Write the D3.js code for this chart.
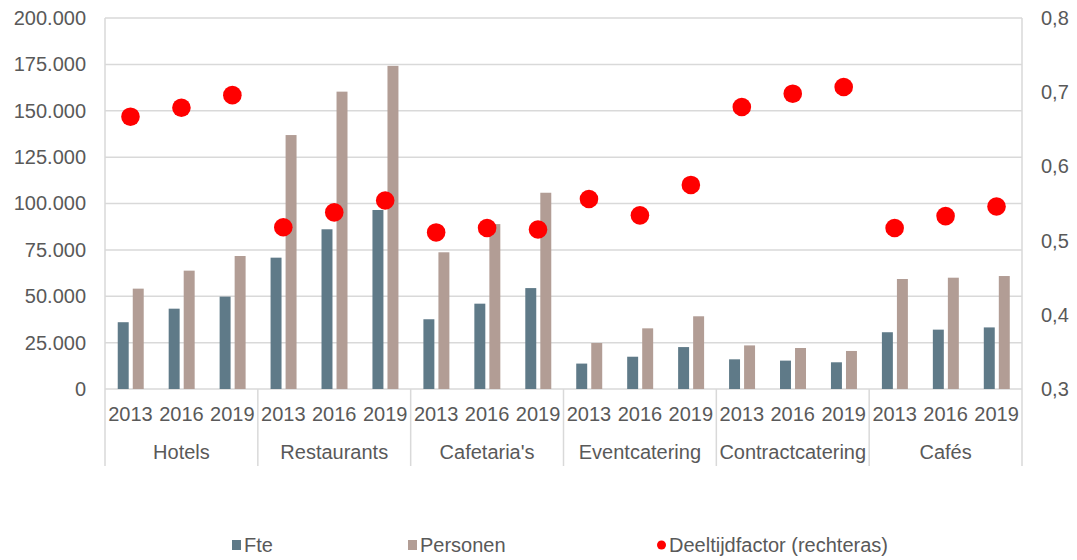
<!DOCTYPE html>
<html>
<head>
<meta charset="utf-8">
<script src="https://cdn.jsdelivr.net/npm/d3@7"></script>
<style>
  body { margin: 0; background: #fff; }
  svg text { font-family: "Liberation Sans", Arial, sans-serif; fill: #595959; }
</style>
</head>
<body>
<div class="chart"></div>
<script>
// data
const sectors = ['Hotels', 'Restaurants', "Cafetaria's", 'Eventcatering', 'Contractcatering', 'Cafés'];
const years = ['2013', '2016', '2019'];
const fte = [
  36000, 43300, 49800,
  70800, 86100, 96500,
  37600, 46000, 54400,
  13700, 17400, 22600,
  16000, 15300, 14400,
  30600, 32000, 33200
];
const personen = [
  54100, 63800, 71700,
  136900, 160300, 174200,
  73700, 88900, 105800,
  24800, 32700, 39200,
  23500, 22100, 20500,
  59300, 60000, 60900
];
const deeltijd = [
  0.667, 0.679, 0.696,
  0.518, 0.538, 0.554,
  0.511, 0.517, 0.515,
  0.556, 0.534, 0.575,
  0.680, 0.698, 0.707,
  0.517, 0.533, 0.546
];
const leftTicks = [0, 25000, 50000, 75000, 100000, 125000, 150000, 175000, 200000];
const rightTicks = [0.3, 0.4, 0.5, 0.6, 0.7, 0.8];

const W = 1077, H = 560;
const margin = { top: 18, right: 55, bottom: 171, left: 105 };
const graph_w = W - margin.left - margin.right;
const graph_h = H - margin.top - margin.bottom;

const colFte = '#5f7a88';
const colPers = '#b29d95';
const colGrid = '#d9d9d9';

const svg = d3.select('.chart').append('svg').attr('width', W).attr('height', H);
const graph = svg.append('g').attr('transform', `translate(${margin.left}, ${margin.top})`);

// rows: one per sector/year
const rows = [];
sectors.forEach((s, i) => {
  years.forEach((y, j) => {
    const k = i * 3 + j;
    rows.push({ key: s + '|' + y, sector: s, year: y, fte: fte[k], personen: personen[k], dtf: deeltijd[k] });
  });
});

// scales
const x = d3.scaleBand().domain(rows.map(d => d.key)).range([0, graph_w]);
const xg = d3.scaleBand().domain(sectors).range([0, graph_w]);
const bw = x.bandwidth();
const x1 = d3.scaleBand().domain(['fte', 'personen'])
  .range([bw * 0.25, bw * 0.76]).paddingInner(0.27);
const y = d3.scaleLinear().domain([0, 200000]).range([graph_h, 0]);
const y2 = d3.scaleLinear().domain([0.3, 0.8]).range([graph_h, 0]);

// gridlines
graph.append('g').selectAll('line').data(leftTicks).join('line')
  .attr('x1', 0).attr('x2', graph_w)
  .attr('y1', d => y(d)).attr('y2', d => y(d))
  .attr('stroke', colGrid).attr('stroke-width', 1.5);

// left / right axis labels
const fmt = d => d3.format(',')(d).replace(/,/g, '.');
const yAxis = d3.axisLeft(y).tickValues(leftTicks).tickFormat(fmt).tickSize(0).tickPadding(19);
const yAxisG = graph.append('g').call(yAxis);
yAxisG.select('.domain').remove();
yAxisG.selectAll('text').attr('font-size', 20).attr('fill', '#595959').attr('font-family', '"Liberation Sans", Arial, sans-serif');

const y2Axis = d3.axisRight(y2).tickValues(rightTicks).tickFormat(d => d3.format('.1f')(d).replace('.', ',')).tickSize(0).tickPadding(19);
const y2AxisG = graph.append('g').attr('transform', `translate(${graph_w}, 0)`).call(y2Axis);
y2AxisG.select('.domain').remove();
y2AxisG.selectAll('text').attr('font-size', 20).attr('fill', '#595959').attr('font-family', '"Liberation Sans", Arial, sans-serif');

// vertical frame + group separators
const sepBottom = graph_h + 77;
graph.append('line').attr('x1', 0).attr('x2', 0).attr('y1', 0).attr('y2', sepBottom)
  .attr('stroke', colGrid).attr('stroke-width', 1.5);
graph.append('line').attr('x1', graph_w).attr('x2', graph_w).attr('y1', 0).attr('y2', sepBottom)
  .attr('stroke', colGrid).attr('stroke-width', 1.5);
graph.append('g').selectAll('line').data(sectors.slice(1)).join('line')
  .attr('x1', d => xg(d)).attr('x2', d => xg(d))
  .attr('y1', graph_h).attr('y2', sepBottom)
  .attr('stroke', colGrid).attr('stroke-width', 1.5);

// bars
const cat = graph.append('g').selectAll('g').data(rows).join('g')
  .attr('transform', d => `translate(${x(d.key)}, 0)`);
cat.append('rect')
  .attr('x', x1('fte')).attr('width', x1.bandwidth())
  .attr('y', d => y(d.fte)).attr('height', d => graph_h - y(d.fte))
  .attr('fill', colFte);
cat.append('rect')
  .attr('x', x1('personen')).attr('width', x1.bandwidth())
  .attr('y', d => y(d.personen)).attr('height', d => graph_h - y(d.personen))
  .attr('fill', colPers);

// dots
graph.append('g').selectAll('circle').data(rows).join('circle')
  .attr('cx', d => x(d.key) + bw / 2)
  .attr('cy', d => y2(d.dtf))
  .attr('r', 9.3)
  .attr('fill', '#ff0000');

// x labels: years then sectors
graph.append('g').selectAll('text').data(rows).join('text')
  .attr('x', d => x(d.key) + bw / 2)
  .attr('y', graph_h + 25)
  .attr('dy', '0.35em')
  .attr('text-anchor', 'middle')
  .attr('font-size', 20)
  .text(d => d.year);
graph.append('g').selectAll('text').data(sectors).join('text')
  .attr('x', d => xg(d) + xg.bandwidth() / 2)
  .attr('y', graph_h + 63)
  .attr('dy', '0.35em')
  .attr('text-anchor', 'middle')
  .attr('font-size', 20)
  .text(d => d);

// legend
const legend = svg.append('g').attr('transform', 'translate(0, 545)');
const items = [
  { label: 'Fte', x: 232, type: 'rect', color: colFte },
  { label: 'Personen', x: 408, type: 'rect', color: colPers },
  { label: 'Deeltijdfactor (rechteras)', x: 657, type: 'circle', color: '#ff0000' }
];
items.forEach(it => {
  if (it.type === 'rect') {
    legend.append('rect').attr('x', it.x).attr('y', -5).attr('width', 9).attr('height', 10).attr('fill', it.color);
  } else {
    legend.append('circle').attr('cx', it.x + 4.5).attr('cy', 0).attr('r', 4.5).attr('fill', it.color);
  }
  legend.append('text').attr('x', it.x + 12).attr('y', 0).attr('dy', '0.35em')
    .attr('font-size', 20).text(it.label);
});
</script>
</body>
</html>
